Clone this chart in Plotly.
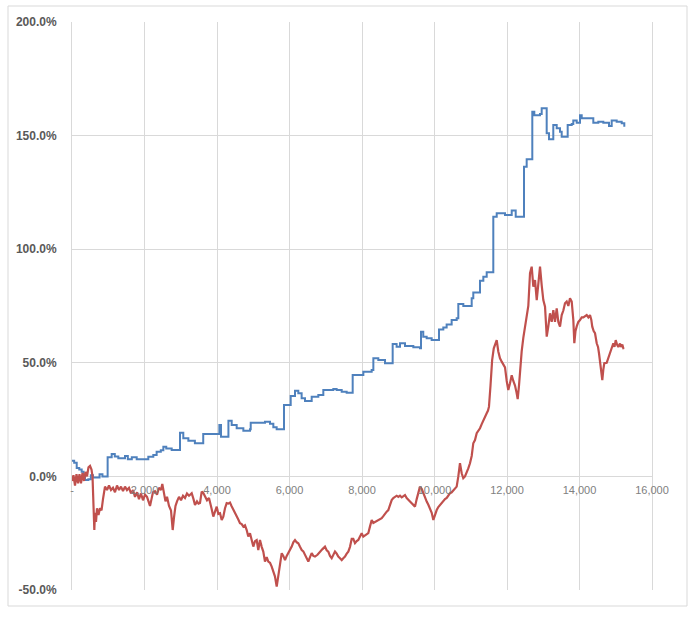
import plotly.graph_objects as go

# ---- data ----
blue_x = [0, 60, 130, 200, 267, 320, 360, 450, 520, 580, 760, 840, 983, 1095, 1180, 1278, 1462, 1540, 1650,
          1785, 2105, 2243, 2335, 2450, 2520, 2600, 2750, 2980, 3070, 3210, 3390, 3620, 4065, 4110, 4315,
          4405, 4543, 4727, 4910, 4930, 5324, 5462, 5554, 5646, 5848, 6033, 6152, 6243, 6335, 6428, 6612,
          6795, 6933, 7209, 7300, 7440, 7577, 7743, 8037, 8267, 8313, 8450, 8635, 8846, 8955, 9048, 9186,
          9416, 9600, 9628, 9690, 9784, 9922, 10124, 10243, 10335, 10473, 10612, 10657, 10795, 11026, 11070,
          11255, 11347, 11440, 11622, 11716, 11945, 12130, 12240, 12469, 12543, 12698, 12753, 12910, 12957,
          13095, 13159, 13277, 13371, 13462, 13509, 13674, 13785, 13829, 13923, 14014, 14061, 14381, 14519,
          14657, 14814, 14888, 15026, 15164, 15236]
blue_y = [6.9, 6.0, 3.7, 3.0, 2.0, 0.5, -1.6, -1.2, 0.5, -0.5, 1.0, 0.0, 8.4, 9.9, 8.8, 8.0, 9.0, 7.5, 8.4,
          7.5, 8.7, 9.4, 10.9, 11.5, 13.0, 12.3, 11.6, 19.2, 16.8, 15.7, 14.6, 18.7, 22.6, 17.5, 24.5,
          22.6, 21.2, 20.1, 20.7, 23.6, 24.1, 23.2, 21.6, 20.7, 31.4, 35.4, 37.7, 36.6, 34.4, 33.2, 35.1,
          35.8, 38.0, 38.5, 38.0, 37.3, 36.8, 44.6, 46.1, 46.8, 52.0, 51.2, 49.8, 58.3, 57.1, 58.6, 57.4,
          56.8, 56.4, 63.7, 61.5, 60.8, 60.0, 64.7, 65.5, 66.9, 68.8, 69.6, 75.9, 75.0, 78.4, 80.9,
          86.1, 87.9, 89.8, 114.3, 115.8, 115.0, 117.0, 114.3, 136.3, 139.6, 160.5, 159.0, 159.5, 162.0,
          151.0, 148.4, 154.7, 153.2, 151.7, 149.5, 154.7, 155.1, 156.6, 155.7, 159.0, 157.6, 155.7, 156.1,
          155.7, 154.2, 156.6, 156.1, 155.4, 153.9]

red_x = [0, 41, 83, 124, 166, 207, 248, 290, 331, 372, 414, 455, 497, 538, 566, 588, 616, 634, 662, 690,
         731, 772, 814, 855, 910, 966, 1021, 1076, 1131, 1186, 1241, 1297, 1352, 1407, 1462, 1517, 1572,
         1628, 1683, 1738, 1793, 1848, 1903, 1959, 2014, 2069, 2110, 2152, 2193, 2234, 2290, 2345, 2400,
         2455, 2491, 2538, 2579, 2621, 2676, 2731, 2778, 2814, 2855, 2897, 2952, 3007, 3062, 3117, 3172,
         3228, 3302, 3352, 3393, 3448, 3490, 3531, 3578, 3622, 3669, 3724, 3779, 3807, 3848, 3898, 3945,
         3992, 4036, 4083, 4130, 4174, 4221, 4267, 4312, 4359, 4400, 4450, 4497, 4543, 4588, 4634, 4681,
         4726, 4772, 4819, 4863, 4910, 4957, 5002, 5048, 5095, 5139, 5186, 5233, 5277, 5324, 5371, 5415,
         5462, 5509, 5553, 5600, 5647, 5691, 5738, 5785, 5829, 5876, 5923, 5967, 6014, 6061, 6105, 6152,
         6199, 6243, 6290, 6337, 6381, 6428, 6475, 6519, 6566, 6612, 6657, 6703, 6772, 6841, 6910, 6979,
         7026, 7070, 7117, 7164, 7208, 7255, 7302, 7346, 7393, 7440, 7484, 7531, 7578, 7622, 7669, 7716,
         7760, 7807, 7854, 7898, 7945, 7992, 8036, 8083, 8130, 8174, 8221, 8268, 8312, 8359, 8406, 8450,
         8497, 8544, 8588, 8635, 8681, 8726, 8772, 8819, 8864, 8910, 8957, 9002, 9048, 9095, 9140, 9186,
         9233, 9278, 9324, 9371, 9416, 9462, 9509, 9554, 9600, 9647, 9692, 9738, 9785, 9830, 9876, 9923,
         9968, 10014, 10061, 10105, 10152, 10199, 10243, 10290, 10337, 10381, 10428, 10474, 10519, 10566,
         10612, 10657, 10703, 10750, 10794, 10841, 10888, 10932, 10979, 11026, 11070, 11117, 11164, 11208,
         11255, 11302, 11346, 11393, 11440, 11476, 11503, 11545, 11590, 11635, 11669, 11716, 11760, 11807,
         11854, 11898, 11945, 11992, 12036, 12083, 12130, 12174, 12221, 12262, 12295, 12331, 12359, 12405,
         12450, 12497, 12543, 12588, 12635, 12681, 12726, 12773, 12820, 12864, 12911, 12958, 13002, 13049,
         13096, 13140, 13186, 13233, 13278, 13324, 13371, 13416, 13462, 13509, 13554, 13600, 13647, 13692,
         13738, 13785, 13830, 13857, 13890, 13923, 13968, 14014, 14061, 14106, 14152, 14199, 14244, 14290,
         14325, 14352, 14391, 14428, 14475, 14511, 14538, 14566, 14593, 14629, 14657, 14684, 14750, 14795,
         14842, 14888, 14933, 14966, 14999, 15035, 15071, 15117, 15145, 15181, 15209, 15236]
red_y = [-2, 0.5, -4, 1, -3, 1, -3, 1.5, -2, 2, 0, 4, 4.6, 3, 0, -12, -23.6, -16, -20, -14,
         -17, -14, -15, -10, -4.5, -6, -4, -6, -5, -7, -4, -6, -4.5, -6.5, -4.5, -6, -5,
         -7.5, -6, -9, -7, -10, -7.5, -10.5, -8, -9, -11.5, -13, -10, -7, -6.5, -8, -5,
         -6, -3.3, -7, -11, -9, -13, -15, -23.6, -18, -13, -11, -9, -10.5, -8.5, -9.5, -7.5,
         -8.5, -7.4, -10, -12.6, -11, -12, -11.7, -6.7, -7.3, -8.5, -10.5, -9.5, -12, -14, -17.7, -15,
         -13.3, -16.5, -16.2, -19.2, -17.7, -14, -11.8, -12, -11.5, -13, -14.8, -16, -17.7, -19, -20.6, -21,
         -22.1, -21.5, -23.6, -26.5, -25, -28, -30.9, -28.5, -28, -32.4, -28, -31, -33.1, -37.5, -35.5, -37.5,
         -38, -39.7, -41.5, -44.1, -48.5, -44.1, -38.3, -33.8, -35, -36.8, -35, -33.8, -32, -30.9, -29, -28,
         -29, -29.4, -31, -32.4, -33, -34.6, -36, -37.5, -35.5, -33.8, -35, -35.3, -34.5, -33.1, -32, -30.9,
         -32.5, -33.1, -35, -36, -34.5, -33.1, -34, -35.3, -36, -36.8, -36, -35.3, -34, -33.1, -31, -27.5,
         -27.5, -29.4, -28.5, -28, -26.5, -25, -26.5, -26, -25.5, -25, -22, -19.2, -20.5, -20, -19.5, -19.2,
         -18.8, -18.4, -17.5, -16.2, -15.5, -14.8, -12.5, -10.4, -9.5, -8.9, -8.5, -9, -8.5, -9.2, -8.5, -8.2,
         -9.5, -10.5, -11, -11.8, -12.5, -13.3, -10, -7, -4.5, -5.5, -7.5, -9.5, -11.1, -12.5, -14, -16,
         -19.2, -16.5, -14.8, -13.5, -12.6, -11.5, -11.1, -10, -9.5, -8.5, -7.4, -7, -6, -5.5,
         -4.5, 0, 5.8, 1.4, -0.8, 0, 1.5, 3.5, 5.8, 9, 14.6, 16, 19, 20,
         21.2, 23, 24.8, 26, 27.8, 29, 30.7, 40, 51.2, 56.4, 58, 60, 55, 52,
         50.5, 49, 48, 42, 38, 41, 44.5, 42, 40, 37, 34, 40, 47.5, 55,
         61, 66, 69, 75, 89.4, 92.3, 83.5, 86.4, 77.6, 85, 92.3, 84, 77.6, 74.7,
         61.5, 66, 71.8, 68, 73.2, 68, 74, 68, 65.9, 71, 73, 76.2, 77, 75,
         78.4, 77, 68.8, 58.6, 64, 66, 68, 68.8, 70, 70, 70.5, 71, 70, 71,
         69, 65.9, 64, 63, 58.6, 57, 54.2, 51, 48.3, 42.4, 47, 49.8, 50, 52,
         54.2, 56, 58.6, 57, 60, 58, 57, 58.5, 57, 58, 56.4, 56.5]

x_tickvals = [0, 2000, 4000, 6000, 8000, 10000, 12000, 14000, 16000]
x_ticktext = ["-", "2,000", "4,000", "6,000", "8,000", "10,000", "12,000", "14,000", "16,000"]
y_tickvals = [-50, 0, 50, 100, 150, 200]
y_ticktext = ["-50.0%", "0.0%", "50.0%", "100.0%", "150.0%", "200.0%"]

BLUE = "#4F81BD"
RED = "#C0504D"
GRID = "#D9D9D9"
FONT = "Liberation Sans"

fig = go.Figure()
fig.add_trace(go.Scatter(x=blue_x, y=blue_y, mode="lines", line=dict(color=BLUE, width=2, shape="hv"),
                         showlegend=False, hoverinfo="skip"))
fig.add_trace(go.Scatter(x=red_x, y=red_y, mode="lines", line=dict(color=RED, width=2.2),
                         showlegend=False, hoverinfo="skip"))

fig.update_layout(
    width=695, height=620,
    margin=dict(l=72, r=43, t=22, b=30),
    paper_bgcolor="white", plot_bgcolor="white",
    font=dict(family=FONT),
    xaxis=dict(range=[0, 16000], tickvals=x_tickvals, ticktext=x_ticktext,
               showgrid=True, gridcolor=GRID, gridwidth=1, zeroline=False,
               showline=False, ticks="",
               anchor="free", position=0.2, ticklabelstandoff=6,
               tickfont=dict(family=FONT, size=11, color="#808080")),
    yaxis=dict(range=[-50, 200], tickvals=y_tickvals, ticktext=y_ticktext,
               showgrid=True, gridcolor=GRID, gridwidth=1, zeroline=False,
               showline=True, linecolor=GRID, linewidth=1, mirror=True, ticks="",
               ticklabelstandoff=12,
               tickfont=dict(family=FONT, size=12, color="#595959", weight="bold")),
)

# outer chart border
fig.add_shape(type="rect", xref="paper", yref="paper",
              x0=(8 - 72) / 580, x1=(687 - 72) / 580, y0=(590 - 606) / 568, y1=(590 - 6) / 568,
              line=dict(color=GRID, width=1), fillcolor="rgba(0,0,0,0)", layer="below")

fig.write_html("out.html")
